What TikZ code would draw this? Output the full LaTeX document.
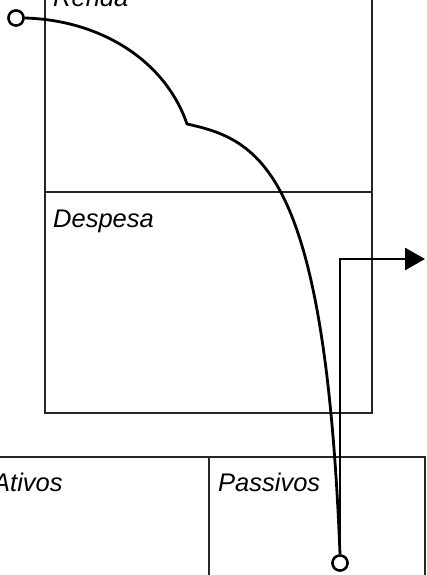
\documentclass[tikz,border=0pt]{standalone}
\usepackage{fontspec}
\setmainfont{Liberation Sans}
\usetikzlibrary{arrows.meta}
\begin{document}
\begin{tikzpicture}[x=1pt,y=-1pt,
  frame/.style={line width=1.4pt, black!85},
  flow/.style={line width=2.8pt, black},
  port/.style={circle, draw, line width=2.4pt, fill=white, minimum size=15pt, inner sep=0pt},
  lbl/.style={anchor=base west, inner sep=0pt, font=\fontsize{25.5}{30}\selectfont\itshape}]
\useasboundingbox (0,0) rectangle (426,575);
\clip (0,0) rectangle (426,575);
% top box (income statement)
\draw[frame] (45,-20) -- (45,413) -- (372,413) -- (372,-20);
\draw[frame] (45,192) -- (372,192);
% bottom box (balance sheet)
\draw[frame] (-20,457) -- (425,457) -- (425,600);
\draw[frame] (209,457) -- (209,600);
% labels
\node[lbl] (renda) at (53,7) {Renda};
\node[lbl] (despesa) at (53,227) {Despesa};
\node[lbl] (ativos) at (-7,491) {Ativos};
\node[lbl] (passivos) at (218,491) {Passivos};
% flow
\node[port] (start) at (16,18) {};
\node[port] (end) at (340,563) {};
\coordinate (cusp) at (187,124);
\coordinate (corner) at (340,259);
\coordinate (out) at (425,259);
\draw[flow, line join=round] (start.east) .. controls (100,20) and (165,60) .. (cusp)
   .. controls (260,140) and (325,170) .. (end.north);
\draw[flow, -{Triangle[length=20pt,width=22pt]}] (end.north) -- (corner) -- (out);
\node[port] at (end) {};
\node[port] at (start) {};
\end{tikzpicture}
\end{document}
